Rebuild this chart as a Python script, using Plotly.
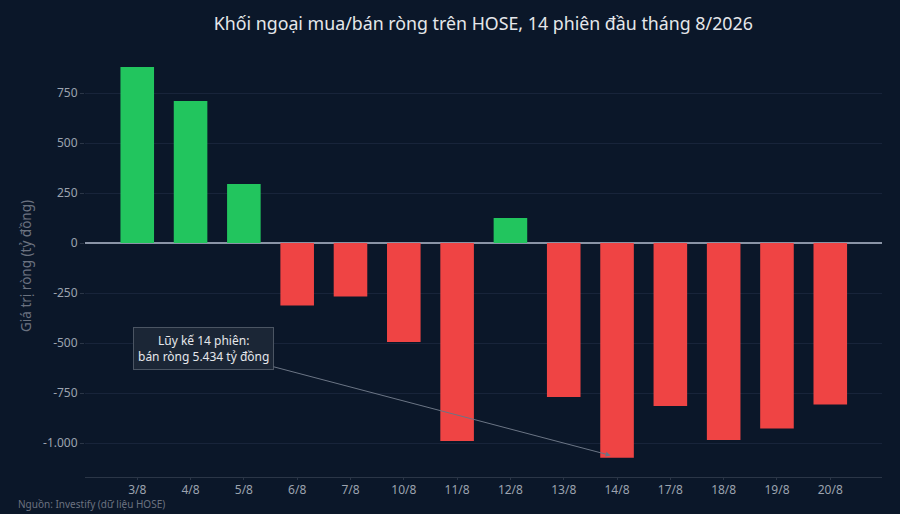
import plotly.graph_objects as go

days = ["3/8", "4/8", "5/8", "6/8", "7/8", "10/8", "11/8", "12/8",
        "13/8", "14/8", "17/8", "18/8", "19/8", "20/8"]
net_values = [880, 710, 295, -312, -268, -495, -990, 125,
              -770, -1074, -815, -985, -927, -808]
y_ticks = [-1000, -750, -500, -250, 0, 250, 500, 750]
y_tick_labels = ["-1.000", "-750", "-500", "-250", "0", "250", "500", "750"]

GREEN = "#22c55e"
RED = "#ef4444"
BG = "#0b1729"

colors = [GREEN if v >= 0 else RED for v in net_values]
total = sum(net_values)
total_text = f"{abs(total):,}".replace(",", ".")

fig = go.Figure()
fig.add_trace(go.Bar(
    x=days, y=net_values, marker=dict(color=colors, line=dict(width=0)),
    hoverinfo="x+y", showlegend=False,
))

fig.add_annotation(
    x=8.88, y=-1062, xref="x", yref="y",
    ax=-407, ay=-107,
    text=f"Lũy kế 14 phiên:<br>{'bán' if total < 0 else 'mua'} ròng {total_text} tỷ đồng",
    showarrow=True, arrowhead=2, arrowsize=1, arrowwidth=1,
    arrowcolor="#6b7585",
    font=dict(family="Noto Sans", size=12, color="#e5e7eb"),
    bgcolor="#1b2636", bordercolor="#4b5563", borderwidth=1, borderpad=4,
    align="center",
)

fig.add_annotation(
    x=-0.086, y=-0.064, xref="paper", yref="paper", xanchor="left", yanchor="middle",
    text="Nguồn: Investify (dữ liệu HOSE)", showarrow=False,
    font=dict(family="Noto Sans", size=10, color="#6b7280"),
)

fig.update_layout(
    width=900, height=514,
    paper_bgcolor=BG, plot_bgcolor=BG,
    margin=dict(l=85, r=18, t=55, b=37),
    bargap=0.37,
    separators=",.",
    font=dict(family="Noto Sans", color="#9ca3af", size=12),
    title=dict(
        text="Khối ngoại mua/bán ròng trên HOSE, 14 phiên đầu tháng 8/2026",
        x=0.537, xanchor="center", y=0.953, yanchor="middle",
        font=dict(family="Noto Sans", size=17.8, color="#e5e7eb"),
    ),
    xaxis=dict(
        type="category", range=[-0.98, 13.97],
        showgrid=False, showline=True, linecolor="#2b3647", linewidth=1,
        ticks="outside", ticklen=2, tickcolor="#2b3647",
        tickfont=dict(size=12, color="#9ca3af"),
        zeroline=False,
    ),
    yaxis=dict(
        range=[-1170, 940],
        tickvals=y_ticks, ticktext=y_tick_labels,
        showgrid=True, gridcolor="#18243a", gridwidth=1,
        zeroline=True, zerolinecolor="#8a94a6", zerolinewidth=1.5,
        ticks="outside", ticklen=4, tickcolor="#2b3647",
        tickfont=dict(size=12, color="#9ca3af"),
        title=dict(text="Giá trị ròng (tỷ đồng)", standoff=8,
                   font=dict(size=13.5, color="#6b7280")),
        showline=False,
    ),
)

fig.write_html(
    "out.html",
    config={"displayModeBar": False},
    post_script="document.body.style.margin='0';document.body.style.background='" + BG + "';",
)
